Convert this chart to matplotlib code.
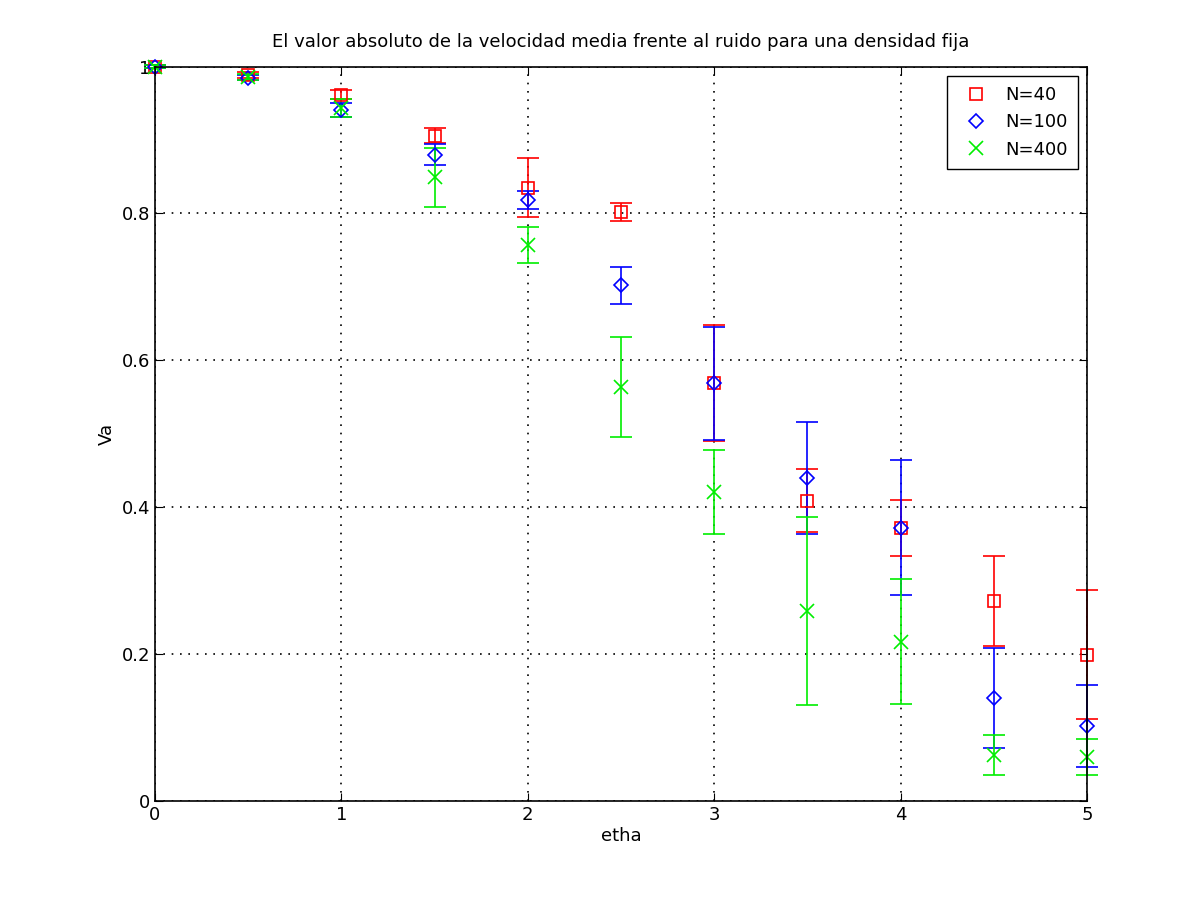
import matplotlib
matplotlib.use("Agg")
import matplotlib.pyplot as plt
from matplotlib.lines import Line2D

etha = [0, 0.5, 1, 1.5, 2, 2.5, 3, 3.5, 4, 4.5, 5]
va40 = [1.0, 0.989, 0.962, 0.906, 0.835, 0.802, 0.569, 0.409, 0.372, 0.272, 0.199]
err40 = [0.002, 0.004, 0.006, 0.010, 0.040, 0.012, 0.079, 0.043, 0.038, 0.061, 0.088]
va100 = [1.0, 0.985, 0.941, 0.880, 0.818, 0.702, 0.569, 0.440, 0.372, 0.140, 0.102]
err100 = [0.002, 0.003, 0.010, 0.014, 0.012, 0.025, 0.077, 0.076, 0.092, 0.068, 0.056]
va400 = [1.0, 0.986, 0.944, 0.849, 0.757, 0.564, 0.421, 0.259, 0.217, 0.063, 0.060]
err400 = [0.002, 0.004, 0.012, 0.040, 0.024, 0.068, 0.057, 0.128, 0.085, 0.027, 0.024]
labels = ['N=40', 'N=100', 'N=400']
colors = ['#ff0000', '#0000ff', '#00ee00']
markers = ['s', 'D', 'x']
msizes = [9, 7, 10]

fig = plt.figure(figsize=(12, 9), dpi=100)
ax = fig.add_axes([0.129, 0.11, 0.777, 0.816])
handles = []
for v, e, c, m, ms, lab in zip([va40, va100, va400], [err40, err100, err400], colors, markers, msizes, labels):
    cont = ax.errorbar(etha, v, yerr=e, fmt=m, color=c, linestyle='none', capsize=8, elinewidth=1.2,
                       capthick=1.2, markerfacecolor='none', markersize=ms, markeredgewidth=1.2)
    for art in [cont[0], *cont[1], *cont[2]]:
        art.set_clip_on(False)
    handles.append(Line2D([], [], linestyle='none', marker=m, color=c, markerfacecolor='none',
                          markersize=ms, markeredgewidth=1.2, label=lab))
ax.set_xlim(0, 5)
ax.set_ylim(0, 1)
ax.set_xticks([0, 1, 2, 3, 4, 5])
ax.set_yticks([0, 0.2, 0.4, 0.6, 0.8, 1])
ax.set_yticklabels(['0', '0.2', '0.4', '0.6', '0.8', '1'])
ax.grid(True, linestyle=(0, (1, 4)), color='black', linewidth=1.2)
ax.tick_params(direction='in', labelsize=13, length=6, top=True, right=True)
for s in ax.spines.values():
    s.set_linewidth(1.2)
ax.set_xlabel('etha', fontsize=13, labelpad=2)
ax.set_ylabel('Va', fontsize=13)
ax.set_title('El valor absoluto de la velocidad media frente al ruido para una densidad fija', fontsize=13, pad=14)
ax.legend(handles=handles, loc='upper right', fontsize=13, fancybox=False, edgecolor='black', framealpha=1,
          handletextpad=0.6, borderpad=0.6)
fig.savefig('out.png')
